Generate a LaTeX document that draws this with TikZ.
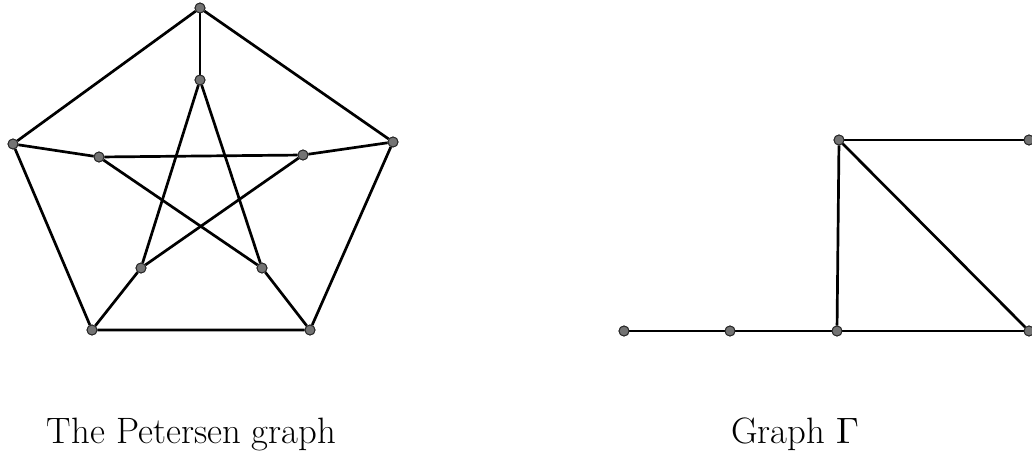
\documentclass[tikz,border=0pt]{standalone}
\usepackage{graphicx}
\begin{document}
\begin{tikzpicture}[x=1pt,y=-1pt,
  vtx/.style={circle,draw=black!85,line width=0.9pt,fill=black!55,inner sep=0pt,minimum size=10pt},
  edge/.style={line width=2.7pt,black},
  lbl/.style={font=\fontsize{36.7}{44}\selectfont,anchor=base}]
\useasboundingbox (0,0) rectangle (1032,455);
% Petersen outer
\node[vtx] (o1) at (200,8) {};
\node[vtx] (o2) at (13,144) {};
\node[vtx] (o3) at (92,330) {};
\node[vtx] (o4) at (310,330) {};
\node[vtx] (o5) at (393,142) {};
% Petersen inner
\node[vtx] (i1) at (200,80) {};
\node[vtx] (i2) at (99,157) {};
\node[vtx] (i3) at (141,268) {};
\node[vtx] (i4) at (262,268) {};
\node[vtx] (i5) at (303,155) {};
\draw[edge] (o1) -- (o2) -- (o3) -- (o4) -- (o5) -- (o1);
\draw[edge] (o1) -- (i1);
\draw[edge] (o2) -- (i2);
\draw[edge] (o3) -- (i3);
\draw[edge] (o4) -- (i4);
\draw[edge] (o5) -- (i5);
\draw[edge] (i1) -- (i3);
\draw[edge] (i1) -- (i4);
\draw[edge] (i2) -- (i5);
\draw[edge] (i2) -- (i4);
\draw[edge] (i5) -- (i3);
% Graph Gamma
\node[vtx] (a) at (624,331) {};
\node[vtx] (b) at (730,331) {};
\node[vtx] (c) at (837,331) {};
\node[vtx] (d) at (1029,331) {};
\node[vtx] (e) at (839,140) {};
\node[vtx] (f) at (1029,140) {};
\draw[edge] (a) -- (b);
\draw[edge] (b) -- (c);
\draw[edge] (c) -- (d);
\draw[edge] (c) -- (e);
\draw[edge] (e) -- (f);
\draw[edge] (e) -- (d);
% redraw nodes on top of the edges
\foreach \n in {o1,o2,o3,o4,o5,i1,i2,i3,i4,i5,a,b,c,d,e,f}
  \node[vtx] at (\n) {};
% labels
\node[lbl] (t1) at (191.5,443) {The Petersen graph};
\node[lbl] (t2) at (795,443) {Graph \scalebox{3.67}{\normalsize$\Gamma$}};
\end{tikzpicture}
\end{document}
